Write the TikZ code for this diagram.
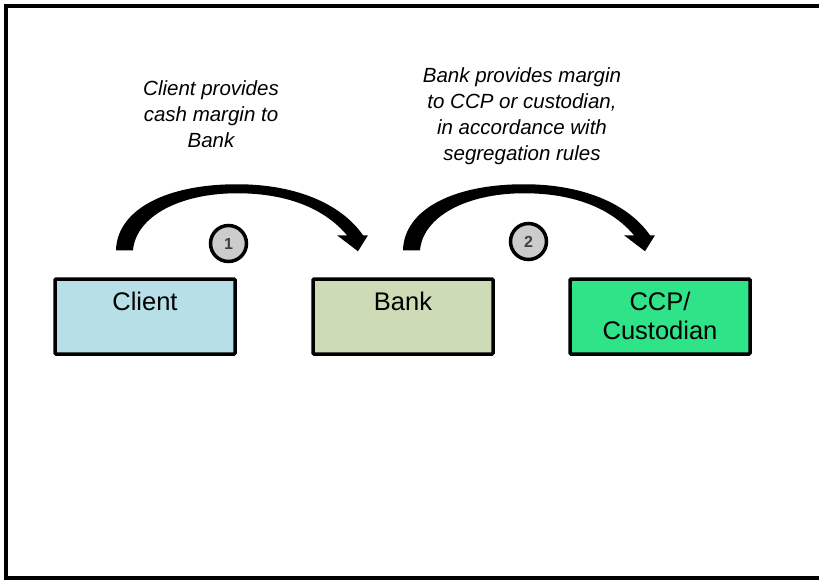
\documentclass[tikz,border=0pt]{standalone}
\usepackage{fontspec}
\setmainfont{Liberation Sans}
\begin{document}
\begin{tikzpicture}[x=1pt,y=-1pt,
  party/.style={draw=black, line width=3.5pt, rounded corners=1pt,
    minimum width=180pt, minimum height=75pt, inner sep=0pt},
  partyname/.style={anchor=north, inner sep=0pt, align=center,
    font=\fontsize{25.5}{29}\selectfont},
  note/.style={inner sep=0pt, align=center,
    font=\fontsize{20.5}{25.8}\selectfont\itshape},
  badge/.style={circle, draw=black, line width=3.5pt, fill=black!20,
    minimum size=36pt, inner sep=0pt, text=black!75,
    font=\fontsize{16}{16}\selectfont\bfseries},
  bendarrow/.pic={
    \fill[black] (0,0) .. controls (1,-40) and (49,-66) .. (121,-66)
      .. controls (184,-66) and (227,-44) .. (247,-15)
      -- (252,-15) -- (242,1) -- (221,-15) -- (231,-15)
      .. controls (210,-40) and (174,-57) .. (121,-57)
      .. controls (64,-57) and (20,-34) .. (17,0) -- cycle;
  }]
\definecolor{clientblue}{RGB}{183,223,232}
\definecolor{banksage}{RGB}{205,219,182}
\definecolor{ccpgreen}{RGB}{46,227,136}

\useasboundingbox (0,0) rectangle (819,579);

% outer frame, running off the right-hand edge
\draw[line width=4pt] (840,6) -- (6,6) -- (6,577.5) -- (840,577.5);

% the three parties
\node[party, fill=clientblue] (client) at (145,316.5) {};
\node[party, fill=banksage]   (bank)   at (403,316.5) {};
\node[party, fill=ccpgreen]   (ccp)    at (660,316.5) {};

\node[partyname] (clientname) at ([yshift=-14.5pt]client.north) {Client};
\node[partyname] (bankname)   at ([yshift=-14.5pt]bank.north)   {Bank};
\node[partyname] (ccpname)    at ([yshift=-14.5pt]ccp.north)    {CCP/\\Custodian};

% margin flows
\path (client.north) ++(-29,-27) coordinate (flow1);
\path (bank.north)   ++(0,-27)   coordinate (flow2);
\pic at (flow1) {bendarrow};
\pic at (flow2) {bendarrow};

\node[badge] (step1) at (228.5,243.5) {1};
\node[badge] (step2) at (528.5,241.5) {2};

\node[note] (note1) at (211,114) {Client provides\\cash margin to\\Bank};
\node[note] (note2) at (522,116) {Bank provides margin\\to CCP or custodian,\\in accordance with\\segregation rules};
\end{tikzpicture}
\end{document}
